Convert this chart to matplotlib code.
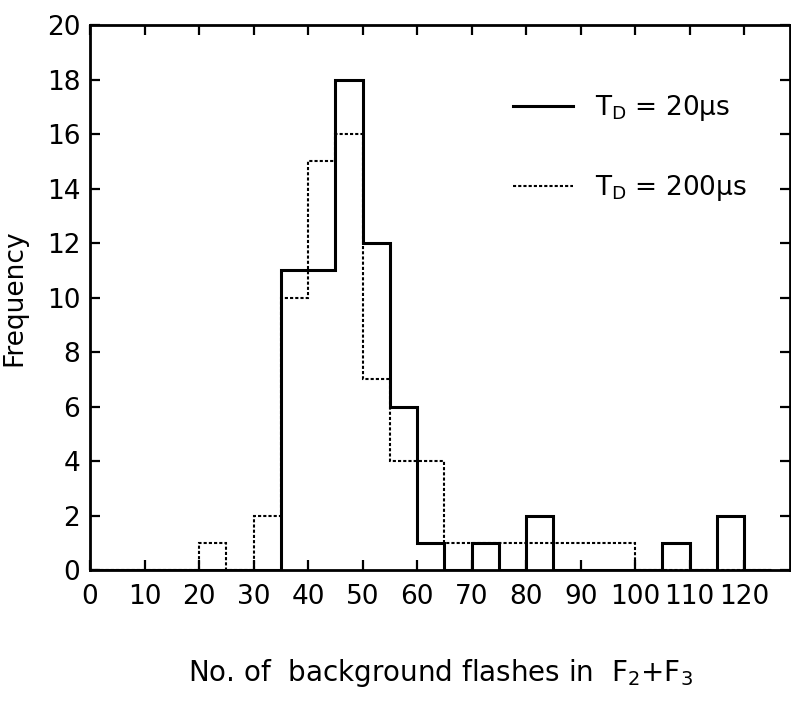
import matplotlib
matplotlib.use('Agg')
import matplotlib.pyplot as plt
import numpy as np
from matplotlib import font_manager

names = {f.name for f in font_manager.fontManager.ttflist}
fam = [n for n in ['DejaVu Sans Condensed', 'Liberation Sans Narrow'] if n in names] + ['DejaVu Sans']
plt.rcParams['font.family'] = fam
plt.rcParams['mathtext.default'] = 'regular'

# histogram bins of width 5 from 0 to 125
bin_edges = np.arange(0, 130, 5)
# T_D = 20 us (solid)
freq_20us = [0, 0, 0, 0, 0, 0, 0, 11, 11, 18, 12, 6, 1, 0, 1, 0, 2, 0, 0, 0, 0, 1, 0, 2, 0]
# T_D = 200 us (dotted)
freq_200us = [0, 0, 0, 0, 1, 0, 2, 10, 15, 16, 7, 4, 4, 1, 1, 1, 1, 1, 1, 1, 0, 0, 0, 0, 0]

xticks = np.arange(0, 130, 10)
yticks = np.arange(0, 22, 2)

fig = plt.figure(figsize=(7.91, 7.03), dpi=100)
ax = fig.add_axes([90/791, 1-570/703, 700/791, 545/703])

ax.stairs(freq_20us, bin_edges, color='black', lw=2.2, label=r'T$_{D}$ = 20$\mu$s')
ax.stairs(freq_200us, bin_edges, color='black', lw=1.5, linestyle=(0, (1.5, 1.0)),
          label=r'T$_{D}$ = 200$\mu$s')

ax.set_xlim(0, 128.4)
ax.set_ylim(0, 20)
ax.set_xticks(xticks)
ax.set_yticks(yticks)
ax.tick_params(direction='in', length=7, width=1.6, labelsize=19,
               top=True, right=True)
ax.tick_params(axis='x', pad=10)
ax.tick_params(axis='y', pad=7)
for s in ax.spines.values():
    s.set_linewidth(2.0)

ax.set_ylabel('Frequency', fontsize=19, labelpad=14)
ax.set_xlabel(r'No. of  background flashes in  F$_2$+F$_3$', fontsize=20, labelpad=34)

ax.legend(loc='upper left', bbox_to_anchor=(0.604, 0.875), frameon=False,
          fontsize=19, handlelength=2.3, handletextpad=0.8, labelspacing=1.9,
          borderpad=0, borderaxespad=0)

fig.savefig('out.png', dpi=100)
